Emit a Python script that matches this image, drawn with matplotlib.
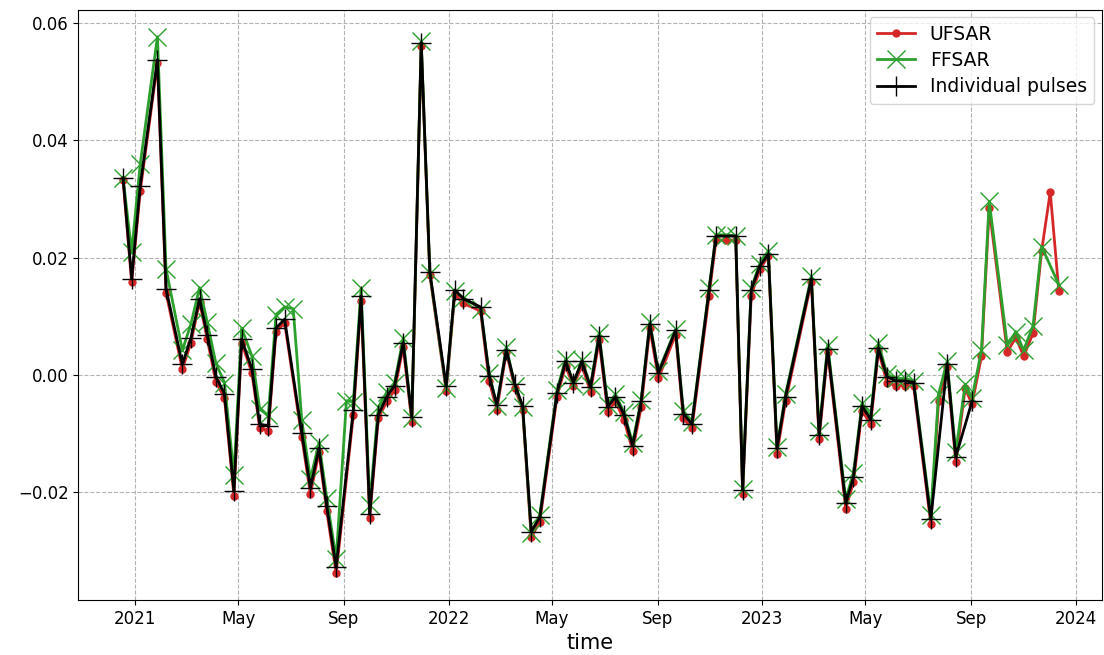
import numpy as np
import pandas as pd
import matplotlib
matplotlib.use("Agg")
import matplotlib.pyplot as plt
import matplotlib.dates as mdates
from matplotlib.ticker import FuncFormatter

nan = np.nan

# acquisition dates
dates = pd.to_datetime([
    "2020-12-18", "2020-12-28", "2021-01-07", "2021-01-27", "2021-02-06",
    "2021-02-25", "2021-03-07", "2021-03-17", "2021-03-26", "2021-04-05",
    "2021-04-15", "2021-04-26", "2021-05-05", "2021-05-17", "2021-05-26",
    "2021-06-05", "2021-06-14", "2021-06-24", "2021-07-04", "2021-07-14",
    "2021-07-24", "2021-08-03", "2021-08-12", "2021-08-23", "2021-09-04",
    "2021-09-12", "2021-09-21", "2021-10-01", "2021-10-11", "2021-10-21",
    "2021-10-30", "2021-11-09", "2021-11-19", "2021-11-30", "2021-12-10",
    "2021-12-29", "2022-01-08", "2022-01-18", "2022-02-07", "2022-02-17",
    "2022-02-26", "2022-03-09", "2022-03-19", "2022-03-28", "2022-04-07",
    "2022-04-17", "2022-05-07", "2022-05-17", "2022-05-26", "2022-06-05",
    "2022-06-15", "2022-06-25", "2022-07-05", "2022-07-14", "2022-07-24",
    "2022-08-03", "2022-08-13", "2022-08-23", "2022-09-02", "2022-09-22",
    "2022-10-01", "2022-10-11", "2022-10-31", "2022-11-08", "2022-11-20",
    "2022-12-01", "2022-12-09", "2022-12-19", "2022-12-29", "2023-01-08",
    "2023-01-18", "2023-01-28", "2023-02-27", "2023-03-08", "2023-03-18",
    "2023-04-08", "2023-04-17", "2023-04-27", "2023-05-07", "2023-05-16",
    "2023-05-26", "2023-06-05", "2023-06-16", "2023-06-26", "2023-07-16",
    "2023-07-25", "2023-08-04", "2023-08-14", "2023-08-25", "2023-09-02",
    "2023-09-13", "2023-09-22", "2023-10-13", "2023-10-23", "2023-11-01",
    "2023-11-12", "2023-11-22", "2023-12-02", "2023-12-12",
])

ufsar = np.array([
    0.0333, 0.0158, 0.0314, 0.0532, 0.0140, 0.0010, 0.0055, 0.0125, 0.0061, -0.0012,
    -0.0039, -0.0206, 0.0055, 0.0003, -0.0090, -0.0095, 0.0074, 0.0089, nan, -0.0106,
    -0.0203, -0.0132, -0.0232, -0.0338, nan, -0.0068, 0.0127, -0.0244, -0.0074, -0.0045,
    -0.0026, 0.0048, -0.0080, 0.0561, 0.0170, -0.0027, 0.0138, 0.0122, 0.0109, -0.0010,
    -0.0059, 0.0039, -0.0023, -0.0059, -0.0277, -0.0250, -0.0037, 0.0016, -0.0019, 0.0016,
    -0.0029, 0.0059, -0.0063, -0.0045, -0.0077, -0.0129, -0.0055, 0.0080, -0.0006, 0.0069,
    -0.0074, -0.0091, 0.0135, 0.0230, 0.0230, 0.0230, -0.0203, 0.0135, 0.0180, 0.0203,
    -0.0134, -0.0045, 0.0159, -0.0109, 0.0039, -0.0228, -0.0183, -0.0061, -0.0084, 0.0042,
    -0.0013, -0.0018, -0.0018, -0.0019, -0.0254, -0.0045, 0.0013, -0.0148, -0.0023, -0.0050,
    0.0032, 0.0284, 0.0039, 0.0064, 0.0032, 0.0071, 0.0212, 0.0312, 0.0143,
])

ffsar = np.array([
    0.0336, 0.0210, 0.0360, 0.0577, 0.0181, 0.0042, 0.0087, 0.0149, 0.0090, 0.0020,
    -0.0013, -0.0170, 0.0080, 0.0032, -0.0058, -0.0069, 0.0103, 0.0116, 0.0113, -0.0077,
    -0.0177, -0.0116, -0.0209, -0.0314, -0.0044, -0.0046, 0.0148, -0.0222, -0.0055, -0.0029,
    -0.0013, 0.0063, -0.0074, 0.0569, 0.0174, -0.0023, 0.0143, 0.0132, 0.0113, 0.0003,
    -0.0053, 0.0048, -0.0019, -0.0055, -0.0270, -0.0238, -0.0026, 0.0027, -0.0016, 0.0026,
    -0.0019, 0.0071, -0.0051, -0.0033, -0.0064, -0.0116, -0.0042, 0.0090, 0.0006, 0.0078,
    -0.0061, -0.0080, 0.0148, 0.0239, 0.0239, 0.0237, -0.0194, 0.0148, 0.0190, 0.0212,
    -0.0122, -0.0033, 0.0168, -0.0096, 0.0051, -0.0212, -0.0167, -0.0048, -0.0071, 0.0055,
    0.0001, -0.0006, -0.0006, -0.0010, -0.0238, -0.0033, 0.0023, -0.0132, -0.0016, -0.0039,
    0.0042, 0.0296, 0.0051, 0.0074, 0.0042, 0.0084, 0.0219, nan, 0.0154,
])

pulses = np.array([
    0.0336, 0.0164, 0.0323, 0.0538, 0.0147, 0.0018, 0.0063, 0.0130, 0.0069, -0.0003,
    -0.0032, -0.0198, 0.0061, 0.0010, -0.0084, -0.0087, 0.0080, 0.0095, nan, -0.0099,
    -0.0193, -0.0125, -0.0224, -0.0328, nan, -0.0059, 0.0135, -0.0237, -0.0068, -0.0037,
    -0.0018, 0.0055, -0.0072, 0.0567, 0.0176, -0.0019, 0.0145, 0.0130, 0.0116, -0.0001,
    -0.0051, 0.0043, -0.0016, -0.0053, -0.0267, -0.0243, -0.0031, 0.0023, -0.0013, 0.0023,
    -0.0021, 0.0066, -0.0055, -0.0037, -0.0068, -0.0121, -0.0045, 0.0087, 0.0003, 0.0076,
    -0.0066, -0.0084, 0.0145, 0.0237, nan, 0.0237, -0.0196, 0.0145, 0.0186, 0.0206,
    -0.0125, -0.0037, 0.0164, -0.0102, 0.0045, -0.0219, -0.0174, -0.0053, -0.0076, 0.0046,
    -0.0003, -0.0010, -0.0010, -0.0013, -0.0246, nan, 0.0019, -0.0140, nan, -0.0045,
    nan, nan, nan, nan, nan, nan, nan, nan, nan,
])

fig, ax = plt.subplots(figsize=(11.04, 6.55), dpi=100)

m = ~np.isnan(ufsar)
ax.plot(dates[m], ufsar[m], color="tab:red", marker="o", markersize=5,
        linewidth=2, label="UFSAR")
m = ~np.isnan(ffsar)
ax.plot(dates[m], ffsar[m], color="tab:green", marker="x", markersize=13,
        linewidth=2, label="FFSAR")
m = ~np.isnan(pulses)
ax.plot(dates[m], pulses[m], color="black", marker="+", markersize=14,
        linewidth=2, label="Individual pulses")

ax.set_xlim(pd.Timestamp("2020-10-27"), pd.Timestamp("2024-01-31"))
ax.xaxis.set_major_locator(mdates.MonthLocator(bymonth=[1, 5, 9]))
ax.xaxis.set_major_formatter(FuncFormatter(
    lambda v, pos: mdates.num2date(v).strftime("%Y" if mdates.num2date(v).month == 1 else "%b")))

ax.tick_params(labelsize=12)
ax.set_xlabel("time", fontsize=15)
ax.grid(True, linestyle="--", color="0.7")
ax.legend(loc="upper right", fontsize=13.5, labelspacing=0.38,
          borderaxespad=0.4)

fig.subplots_adjust(left=0.071, right=0.998, top=0.985, bottom=0.084)
fig.savefig("out.png")
